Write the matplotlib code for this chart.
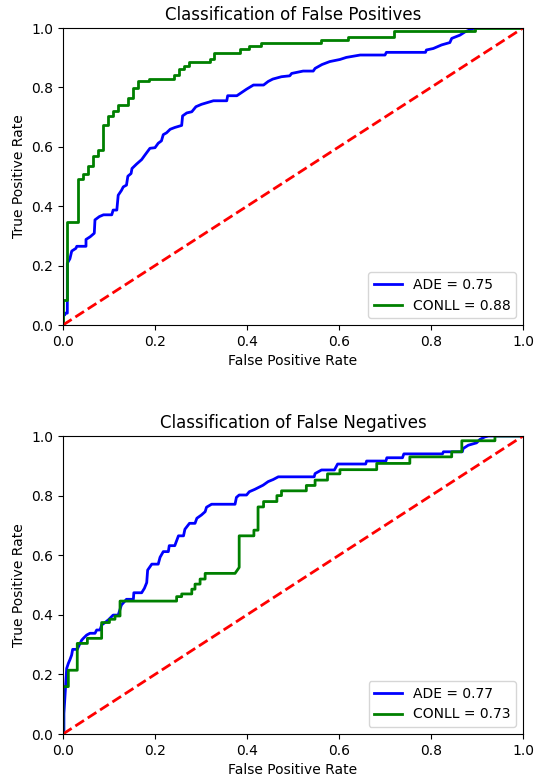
import matplotlib
matplotlib.use("Agg")
import matplotlib.pyplot as plt

# ---- Data: top chart (False Positives) ----
fp_ade_fpr = [0.0, 0.0, 0.004, 0.004, 0.0094, 0.0094, 0.015, 0.019, 0.028, 0.030, 0.050, 0.050, 0.059,
              0.068, 0.0695, 0.079, 0.088, 0.106, 0.109, 0.117, 0.120, 0.127, 0.131, 0.138, 0.141,
              0.148, 0.150, 0.160, 0.171, 0.178, 0.189, 0.200, 0.207, 0.214, 0.218, 0.225, 0.233,
              0.243, 0.258, 0.260, 0.269, 0.280, 0.289, 0.301, 0.327, 0.356, 0.358, 0.378, 0.399,
              0.414, 0.436, 0.446, 0.456, 0.475, 0.493, 0.497, 0.522, 0.544, 0.548, 0.563, 0.580,
              0.602, 0.616, 0.646, 0.700, 0.703, 0.788, 0.790, 0.805, 0.823, 0.841, 0.845, 0.863,
              0.874, 0.891, 0.900, 1.0]
fp_ade_tpr = [0.0, 0.034, 0.034, 0.040, 0.040, 0.208, 0.223, 0.249, 0.258, 0.265, 0.265, 0.288, 0.297,
              0.309, 0.354, 0.365, 0.371, 0.371, 0.387, 0.387, 0.437, 0.453, 0.465, 0.471, 0.501,
              0.510, 0.527, 0.542, 0.557, 0.572, 0.595, 0.597, 0.612, 0.620, 0.641, 0.647, 0.659,
              0.665, 0.672, 0.704, 0.714, 0.718, 0.735, 0.743, 0.755, 0.755, 0.772, 0.772, 0.794,
              0.808, 0.808, 0.820, 0.828, 0.836, 0.839, 0.847, 0.855, 0.855, 0.864, 0.877, 0.887,
              0.894, 0.901, 0.909, 0.909, 0.918, 0.918, 0.926, 0.931, 0.943, 0.951, 0.965, 0.976,
              0.987, 0.998, 1.0, 1.0]

fp_conll_fpr = [0.0, 0.0, 0.0094, 0.0094, 0.033, 0.033, 0.044, 0.044, 0.055, 0.055, 0.0645, 0.0645,
                0.077, 0.077, 0.0877, 0.0877, 0.0986, 0.0986, 0.109, 0.109, 0.120, 0.120, 0.142,
                0.142, 0.153, 0.153, 0.164, 0.164, 0.188, 0.188, 0.241, 0.241, 0.252, 0.252, 0.263,
                0.263, 0.274, 0.274, 0.320, 0.320, 0.329, 0.329, 0.385, 0.385, 0.405, 0.405, 0.431,
                0.431, 0.561, 0.561, 0.620, 0.620, 0.720, 0.720, 0.895, 0.895, 1.0]
fp_conll_tpr = [0.0, 0.084, 0.084, 0.346, 0.346, 0.490, 0.490, 0.510, 0.510, 0.535, 0.535, 0.569,
                0.569, 0.590, 0.590, 0.672, 0.672, 0.704, 0.704, 0.720, 0.720, 0.741, 0.741, 0.763,
                0.763, 0.797, 0.797, 0.820, 0.820, 0.829, 0.829, 0.843, 0.843, 0.862, 0.862, 0.873,
                0.873, 0.884, 0.884, 0.895, 0.895, 0.917, 0.917, 0.928, 0.928, 0.939, 0.939, 0.948,
                0.948, 0.958, 0.958, 0.969, 0.969, 0.991, 0.991, 1.0, 1.0]

# ---- Data: bottom chart (False Negatives) ----
fn_ade_fpr = [0.0, 0.002, 0.002, 0.008, 0.0116, 0.0152, 0.0188, 0.021, 0.031, 0.0355, 0.0406, 0.0442,
              0.0514, 0.0587, 0.0696, 0.0732, 0.0804, 0.0841, 0.0913, 0.0986, 0.109, 0.120, 0.127,
              0.138, 0.153, 0.154, 0.171, 0.177, 0.182, 0.184, 0.193, 0.207, 0.211, 0.218, 0.229,
              0.231, 0.243, 0.251, 0.262, 0.265, 0.275, 0.287, 0.291, 0.301, 0.309, 0.312, 0.323,
              0.374, 0.377, 0.383, 0.399, 0.405, 0.417, 0.435, 0.446, 0.457, 0.468, 0.546, 0.548,
              0.562, 0.590, 0.597, 0.658, 0.660, 0.702, 0.704, 0.738, 0.741, 0.825, 0.827, 0.868,
              0.870, 0.881, 0.899, 0.906, 0.917, 0.925, 1.0]
fn_ade_tpr = [0.0, 0.0, 0.069, 0.220, 0.237, 0.250, 0.265, 0.284, 0.284, 0.299, 0.315, 0.321,
              0.332, 0.338, 0.338, 0.349, 0.349, 0.366, 0.374, 0.383, 0.399, 0.399, 0.433,
              0.452, 0.452, 0.474, 0.474, 0.489, 0.508, 0.550, 0.570, 0.570, 0.593, 0.612, 0.612,
              0.632, 0.632, 0.665, 0.665, 0.687, 0.707, 0.707, 0.724, 0.735, 0.746, 0.761, 0.771,
              0.771, 0.794, 0.802, 0.802, 0.813, 0.821, 0.835, 0.847, 0.854, 0.863, 0.863, 0.874,
              0.886, 0.886, 0.906, 0.906, 0.916, 0.916, 0.927, 0.927, 0.940, 0.940, 0.947, 0.947,
              0.958, 0.969, 0.977, 0.988, 0.997, 1.0, 1.0]

fn_conll_fpr = [0.0, 0.0, 0.0116, 0.0116, 0.031, 0.031, 0.053, 0.053, 0.084, 0.084, 0.101, 0.101,
                0.113, 0.113, 0.124, 0.124, 0.247, 0.247, 0.258, 0.258, 0.280, 0.280, 0.287, 0.287,
                0.298, 0.298, 0.309, 0.309, 0.374, 0.383, 0.383, 0.415, 0.415, 0.424, 0.424, 0.436,
                0.436, 0.465, 0.465, 0.475, 0.475, 0.529, 0.529, 0.548, 0.548, 0.575, 0.575, 0.602,
                0.602, 0.682, 0.682, 0.754, 0.754, 0.845, 0.845, 0.867, 0.867, 0.939, 0.939, 1.0]
fn_conll_tpr = [0.0, 0.159, 0.159, 0.214, 0.214, 0.304, 0.304, 0.321, 0.321, 0.374, 0.374, 0.385,
                0.385, 0.396, 0.396, 0.446, 0.446, 0.461, 0.461, 0.470, 0.470, 0.486, 0.486, 0.503,
                0.503, 0.520, 0.520, 0.539, 0.539, 0.559, 0.665, 0.665, 0.684, 0.684, 0.762, 0.762,
                0.780, 0.780, 0.800, 0.800, 0.816, 0.816, 0.834, 0.834, 0.852, 0.852, 0.873, 0.873,
                0.887, 0.887, 0.908, 0.908, 0.930, 0.930, 0.947, 0.947, 0.984, 0.984, 1.0, 1.0]

titles = ["Classification of False Positives", "Classification of False Negatives"]
labels_top = ["ADE = 0.75", "CONLL = 0.88"]
labels_bottom = ["ADE = 0.77", "CONLL = 0.73"]

fig = plt.figure(figsize=(5.34, 7.81), dpi=100)
ax1 = fig.add_axes([63 / 534, 1 - 325 / 781, 460 / 534, 297 / 781])
ax2 = fig.add_axes([63 / 534, 1 - 734 / 781, 460 / 534, 298 / 781])

panels = [
    (ax1, fp_ade_fpr, fp_ade_tpr, fp_conll_fpr, fp_conll_tpr, labels_top, titles[0]),
    (ax2, fn_ade_fpr, fn_ade_tpr, fn_conll_fpr, fn_conll_tpr, labels_bottom, titles[1]),
]
for ax, afpr, atpr, cfpr, ctpr, labs, title in panels:
    ax.plot(afpr, atpr, color="b", lw=2, label=labs[0])
    ax.plot(cfpr, ctpr, color="g", lw=2, label=labs[1])
    ax.plot([0, 1], [0, 1], "r--", lw=2)
    ax.set_xlim(0, 1)
    ax.set_ylim(0, 1)
    ax.set_title(title, fontsize=12)
    ax.set_xlabel("False Positive Rate")
    ax.set_ylabel("True Positive Rate")
    ax.legend(loc="lower right")

fig.savefig("out.png", dpi=100)
